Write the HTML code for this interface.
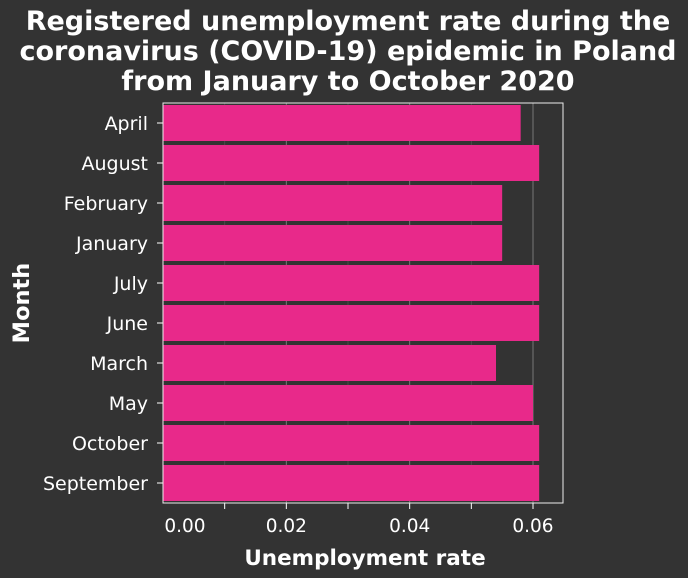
<!DOCTYPE html>
<html><head><meta charset="utf-8"><style>
body{margin:0;background:#333333;}
svg{display:block;font-family:"DejaVu Sans","Liberation Sans",sans-serif;}
</style></head><body>
<svg width="688" height="578">
<rect width="688" height="578" fill="#333333"/>
<g fill="#ffffff" font-weight="bold" font-size="27" text-anchor="middle">
<text x="348" y="30">Registered unemployment rate during the</text>
<text x="348" y="60">coronavirus (COVID-19) epidemic in Poland</text>
<text x="348" y="90">from January to October 2020</text>
</g>
<g id="grid"></g><g id="bars"></g><g id="axes"></g>
<rect x="163" y="103" width="400" height="400" fill="none" stroke="#eeeeee" stroke-width="1"/>
<text x="365" y="565" fill="#fff" font-size="21.5" font-weight="bold" text-anchor="middle">Unemployment rate</text>
<text transform="translate(29,303) rotate(-90)" fill="#fff" font-size="22.5" font-weight="bold" text-anchor="middle">Month</text>
</svg>
<script>
const categories=["April","August","February","January","July","June","March","May","October","September"];
const values=[0.058,0.061,0.055,0.055,0.061,0.061,0.054,0.060,0.061,0.061];
const tickValues=[0,0.02,0.04,0.06];
const tickLabels=["0.00","0.02","0.04","0.06"];
const minorTicks=[0.01,0.03,0.05];
const NS="http://www.w3.org/2000/svg";
const x=v=>163+v*(370/0.06);
const y=i=>103+i*40;
function mk(tag,attrs,parent){const e=document.createElementNS(NS,tag);for(const k in attrs)e.setAttribute(k,attrs[k]);document.getElementById(parent).appendChild(e);return e;}
minorTicks.concat(tickValues.slice(1)).forEach(v=>{
 const l=mk('line',{x1:x(v),x2:x(v),y1:103,y2:503,stroke:tickValues.includes(v)?'#777':'#4a4a4a','stroke-width':1},'grid');
 
 
 const t=mk('line',{x1:x(v),x2:x(v),y1:503,y2:509,stroke:'#fff'},'axes');
 
 
});
tickValues.forEach((v,i)=>{
 const t=mk('text',{x:Math.max(x(v),185),y:532,fill:'#fff','font-size':18.5,'text-anchor':'middle'},'axes');
 t.textContent=tickLabels[i];
 
 
});
categories.forEach((c,i)=>{
 const b=mk('rect',{x:x(0),y:y(i)+2,width:x(values[i])-x(0),height:36,fill:'#e8298a'},'bars');
 
 
 const tk=mk('line',{x1:157,x2:163,y1:y(i)+20,y2:y(i)+20,stroke:'#fff'},'axes');
 
 
 const t=mk('text',{x:148,y:y(i)+27,fill:'#fff','font-size':19,'text-anchor':'end'},'axes');
 t.textContent=c;
 
 
});
</script>
</body></html>
